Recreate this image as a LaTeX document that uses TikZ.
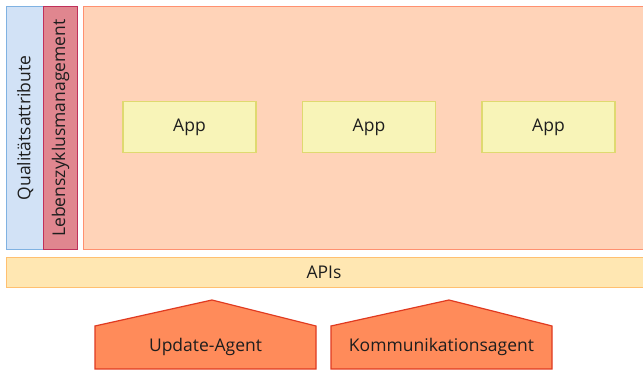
\documentclass[tikz,border=0pt]{standalone}
\usepackage{fontspec}
\setmainfont{Open Sans}
\definecolor{qfill}{HTML}{D2E2F6}
\definecolor{qdraw}{HTML}{80B2E2}
\definecolor{lfill}{HTML}{E0868F}
\definecolor{ldraw}{HTML}{C0305A}
\definecolor{ofill}{HTML}{FFD3B8}
\definecolor{odraw}{HTML}{FF9070}
\definecolor{afill}{HTML}{F8F4B8}
\definecolor{adraw}{HTML}{DFD970}
\definecolor{pfill}{HTML}{FFE7B2}
\definecolor{pdraw}{HTML}{FFC070}
\definecolor{gfill}{HTML}{FF8B5A}
\definecolor{gdraw}{HTML}{E03A20}
\definecolor{txt}{HTML}{1E1E1E}
\begin{document}
\begin{tikzpicture}[x=1pt,y=-1pt,
  lbl/.style={font=\fontsize{17.5}{20}\selectfont,text=txt},
  appbox/.style={draw=adraw,fill=afill,line width=1.6pt,minimum width=133pt,minimum height=51pt,inner sep=0pt,lbl},
  agent/.style={draw=gdraw,fill=gfill,line width=1.2pt,line join=miter}]
\useasboundingbox (0,0) rectangle (643,371);
\clip (0,0) rectangle (643,371);
\fill[white] (0,0) rectangle (643,371);
% side bars
\node[draw=qdraw,fill=qfill,line width=1.2pt,minimum width=37pt,minimum height=243pt,inner sep=0pt,anchor=north west] (q) at (6,6) {};
\node[lbl,rotate=90] (qt) at (q.center) {Qualitätsattribute};
\node[draw=ldraw,fill=lfill,line width=1.2pt,minimum width=34pt,minimum height=243pt,inner sep=0pt,anchor=north west] (l) at (43,6) {};
\node[lbl,rotate=90] (lt) at (l.center) {Lebenszyklusmanagement};
% big area
\node[draw=odraw,fill=ofill,line width=1.2pt,minimum width=575pt,minimum height=243pt,inner sep=0pt,anchor=north west] (area) at (83,6) {};
% apps
\node[appbox] (app1) at (189.5,127) {App};
\node[appbox] (app2) at (369,127) {App};
\node[appbox] (app3) at (548.5,127) {App};
% APIs
\node[draw=pdraw,fill=pfill,line width=1.4pt,minimum width=650pt,minimum height=30pt,inner sep=0pt,anchor=north west] (apis) at (6,257) {};
\node[lbl] (apist) at (324,272) {APIs};
% agents
\draw[agent] (95,369) -- (95,326) -- (212,300) -- (316,326) -- (316,369) -- cycle;
\node[lbl] (ua) at (205.5,347) {Update-Agent};
\draw[agent] (331,369) -- (331,326) -- (449,300) -- (552,326) -- (552,369) -- cycle;
\node[lbl] (ka) at (441.5,347) {Kommunikationsagent};
\end{tikzpicture}
\end{document}
